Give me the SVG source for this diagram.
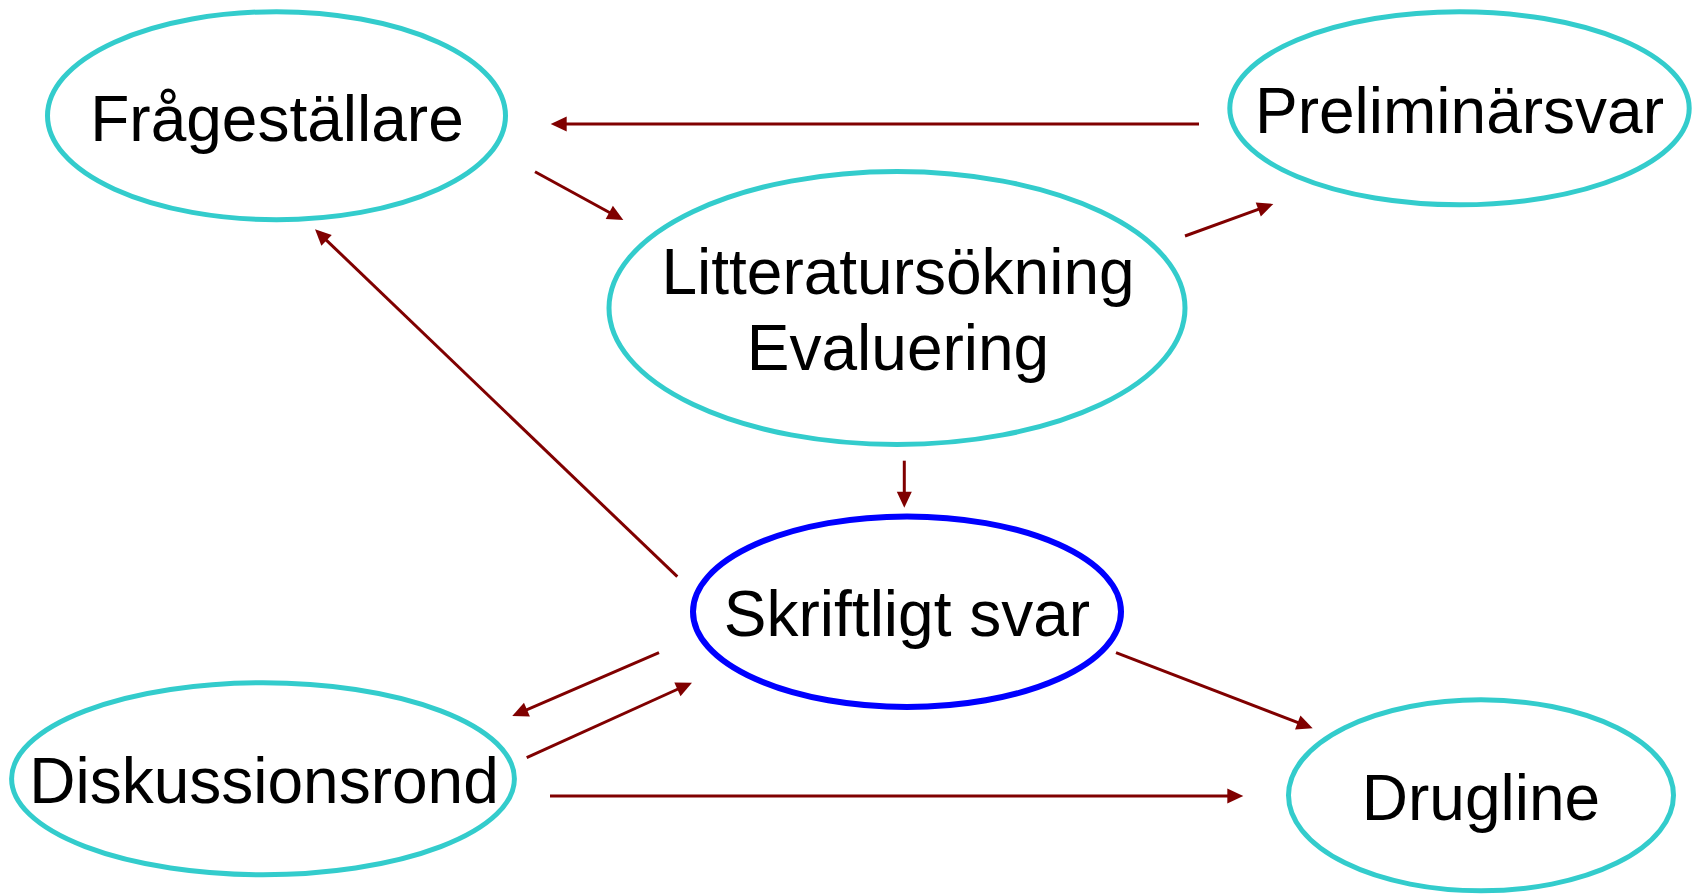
<svg xmlns="http://www.w3.org/2000/svg" width="1694" height="894" viewBox="0 0 1694 894">
<style>
.n{fill:#fff;stroke:#33CCCC;stroke-width:5}
.b{fill:#fff;stroke:#0000FF;stroke-width:6}
.t{font-family:"Liberation Sans",Arial,sans-serif;font-size:64px;fill:#000;text-anchor:middle}
.c{stroke:#800000;stroke-width:3;fill:none;marker-end:url(#ah)}
</style>
<defs>
<marker id="ah" markerUnits="userSpaceOnUse" markerWidth="16" markerHeight="15" refX="8" refY="7.5" orient="auto" overflow="visible">
<path d="M0,0 L16,7.5 L0,15 z" fill="#800000"/>
</marker>
</defs>
<rect width="1694" height="894" fill="#fff"/>
<g id="n-fragestallare">
<ellipse class="n" cx="276.5" cy="115.7" rx="229" ry="104"/>
<text class="t" x="277" y="140.7">Frågeställare</text>
</g>
<g id="n-preliminarsvar">
<ellipse class="n" cx="1459.5" cy="108.3" rx="229.7" ry="96.5"/>
<text class="t" x="1459.5" y="132.7">Preliminärsvar</text>
</g>
<g id="n-litteratur">
<ellipse class="n" cx="897" cy="308" rx="288" ry="136.5"/>
<text class="t" x="898" y="294.3">Litteratursökning</text>
<text class="t" x="898" y="370">Evaluering</text>
</g>
<g id="n-skriftligt">
<ellipse class="b" cx="907" cy="611.7" rx="214" ry="95.3"/>
<text class="t" x="907" y="636">Skriftligt svar</text>
</g>
<g id="n-diskussionsrond">
<ellipse class="n" cx="263" cy="778.7" rx="251.4" ry="96"/>
<text class="t" x="264" y="802.7">Diskussionsrond</text>
</g>
<g id="n-drugline">
<ellipse class="n" cx="1481" cy="795.3" rx="192.5" ry="95.5"/>
<text class="t" x="1481" y="820">Drugline</text>
</g>
<g id="connectors">
<line class="c" x1="1199" y1="124" x2="558.7" y2="124"/>
<line class="c" x1="535" y1="171.7" x2="616.3" y2="216.2"/>
<line class="c" x1="1185" y1="236" x2="1265.8" y2="206.7"/>
<line class="c" x1="904.3" y1="460.7" x2="904.3" y2="499.7"/>
<line class="c" x1="677.3" y1="576.7" x2="320.8" y2="234.8"/>
<line class="c" x1="659" y1="652.7" x2="519.6" y2="712.8"/>
<line class="c" x1="526.7" y1="757.7" x2="684.7" y2="686"/>
<line class="c" x1="1116" y1="652.6" x2="1305.2" y2="725.4"/>
<line class="c" x1="550" y1="796" x2="1235.3" y2="796"/>
</g>
</svg>
